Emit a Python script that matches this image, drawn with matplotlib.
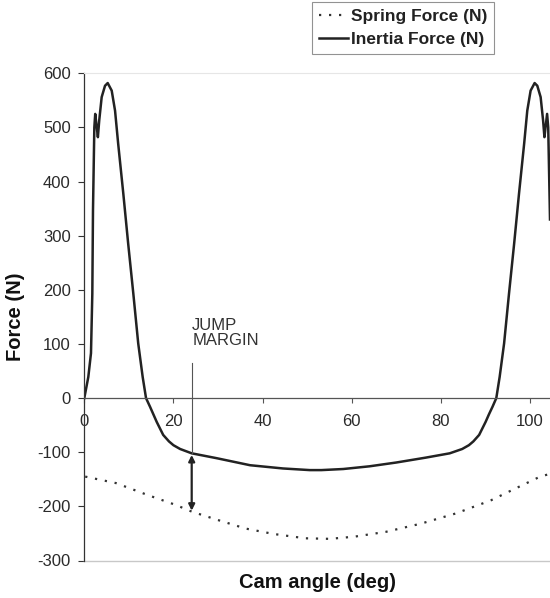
import numpy as np
import matplotlib
matplotlib.use("Agg")
import matplotlib.pyplot as plt

plt.rcParams['font.family'] = ['Liberation Sans', 'DejaVu Sans']
plt.rcParams['axes.unicode_minus'] = False

# inertia force (N) vs cam angle (deg)
inertia_x = [0, 0.9, 1.5, 1.8, 1.95, 2.25, 2.45, 2.8, 3.05, 3.35, 3.9, 4.65, 5.25, 6.15,
             6.9, 7.6, 8.75, 9.85, 11.0, 12.1, 13.1, 13.85, 14.75, 15.5, 16.25, 17.7,
             19.0, 20.0, 21.5, 24.1, 29.7, 37.2, 44.6, 50.6, 53.2, 58.1, 64.0, 70.0,
             76.6, 82.0, 84.8, 86.3, 87.3, 88.6, 90.05, 90.8, 91.6, 92.45, 93.2, 94.2,
             95.3, 96.45, 97.55, 98.7, 99.4, 100.15, 101.05, 101.65, 102.4, 102.95,
             103.25, 103.5, 103.85, 104.1, 104.5]
inertia_y = [0, 39, 83, 193, 347, 500, 525, 500, 482, 513, 556, 577, 582, 568,
             531, 470, 378, 285, 193, 101, 39, 0, -16, -30, -44, -68,
             -80, -87, -94, -102, -111, -124, -130, -133, -133, -131, -126, -119,
             -110, -102, -94, -87, -80, -68, -44, -30, -16, 0, 39, 101,
             193, 285, 378, 470, 531, 568, 582, 577, 556, 513,
             482, 500, 525, 500, 330]

# spring force (N)
spring_x = [0.2, 7.1, 14.2, 20.4, 24.2, 29.9, 36.2, 42.5, 49.6, 55.1, 60.6, 67.7,
            75.5, 83.4, 91.2, 97.5, 102.3, 104.5]
spring_y = [-145, -157, -179, -197, -210, -225, -241, -251, -259, -260, -256, -247,
            -232, -213, -189, -164, -145, -140]

yticks = [-300, -200, -100, 0, 100, 200, 300, 400, 500, 600]
xticks = [0, 20, 40, 60, 80, 100]

jump_x = 24.1
jump_top = -102
jump_bot = -210

fig = plt.figure(figsize=(5.5, 5.98), dpi=100)
ax = fig.add_axes([84.3/550, 1-560.5/598, 465.7/550, (560.5-73.3)/598])

ax.plot(spring_x, spring_y, color='#333333', lw=1.6, ls=(0, (1, 3.5)),
        label='Spring Force (N)')
ax.plot(inertia_x, inertia_y, color='#222222', lw=1.8, label='Inertia Force (N)')

ax.set_xlim(0, 104.5)
ax.set_ylim(-300, 600)

# excel-like axes
ax.spines['right'].set_visible(False)
ax.spines['top'].set_color('#e6e6e6')
ax.spines['top'].set_linewidth(0.8)
ax.spines['bottom'].set_position(('data', 0))
ax.spines['bottom'].set_color('#555555')
ax.spines['bottom'].set_linewidth(0.9)
ax.spines['left'].set_color('#333333')
ax.spines['left'].set_linewidth(0.9)
ax.axhline(-300, color='#c8c8c8', lw=1.0, clip_on=False)

ax.set_yticks(yticks)
ax.set_xticks(xticks)
ax.tick_params(axis='y', direction='out', length=4.3, width=0.8, color='#333333',
               labelsize=12, labelcolor='#2a2a2a', pad=5.5)
ax.tick_params(axis='x', direction='out', length=3.4, width=0.8, color='#555555',
               labelsize=12, labelcolor='#2a2a2a', pad=8)

ax.set_xlabel('Cam angle (deg)', fontsize=14.5, fontweight='bold', color='#111111')
ax.xaxis.set_label_coords(0.5, -0.026)
ax.set_ylabel('Force (N)', fontsize=14.5, fontweight='bold', color='#111111')
ax.yaxis.set_label_coords(-0.128, 0.5)

# jump margin annotation
ax.plot([jump_x, jump_x], [65, jump_top], color='#555555', lw=0.8)
ax.annotate('', xy=(jump_x, jump_top - 3), xytext=(jump_x, jump_bot + 2),
            arrowprops=dict(arrowstyle='<|-|>', color='#222222', lw=1.6,
                            mutation_scale=9, shrinkA=0, shrinkB=0))
ax.text(jump_x + 0.1, 120, 'JUMP\nMARGIN', fontsize=12, color='#333333',
        ha='left', va='center', linespacing=1.0)

leg = fig.legend(loc='upper left', bbox_to_anchor=(312/550, 1-2/598),
                 frameon=True, fancybox=False, handlelength=1.7, handletextpad=0.15,
                 borderpad=0.4, labelspacing=0.45, borderaxespad=0,
                 prop={'size': 12.5, 'weight': 'bold'})
leg.get_frame().set_edgecolor('#777777')
leg.get_frame().set_linewidth(0.8)
for t in leg.get_texts():
    t.set_color('#222222')

fig.savefig('out.png', dpi=100)
